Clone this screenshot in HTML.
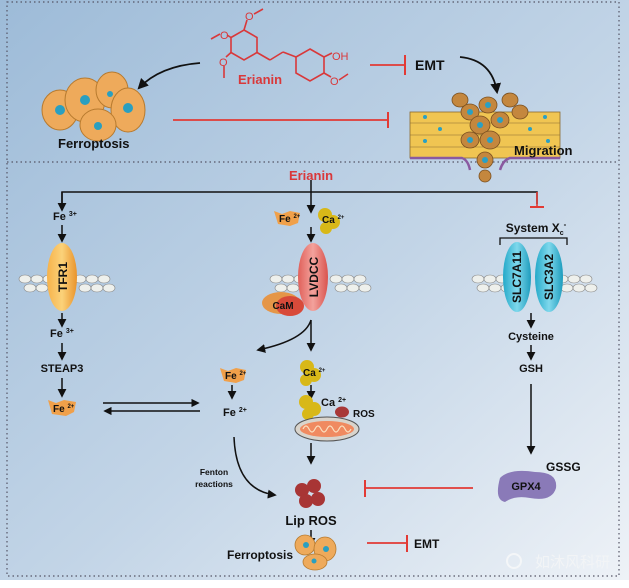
<!DOCTYPE html>
<html><head><meta charset="utf-8"><style>
html,body{margin:0;padding:0;background:#fff}
svg{display:block;font-family:"Liberation Sans",Arial,sans-serif;font-weight:bold}
</style></head><body>
<svg width="629" height="588" viewBox="0 0 629 588" xmlns="http://www.w3.org/2000/svg">
<defs>
<linearGradient id="bg" x1="0" y1="0" x2="1" y2="1">
<stop offset="0" stop-color="#9dbbd8"/><stop offset="0.55" stop-color="#c3d5e7"/><stop offset="1" stop-color="#eef2f7"/>
</linearGradient>
<linearGradient id="og" x1="0" x2="1"><stop offset="0" stop-color="#f7b24a"/><stop offset="0.5" stop-color="#fbd27a"/><stop offset="1" stop-color="#e9932b"/></linearGradient>
<linearGradient id="pg" x1="0" x2="1"><stop offset="0" stop-color="#e0605a"/><stop offset="0.5" stop-color="#f3a29c"/><stop offset="1" stop-color="#d9534d"/></linearGradient>
<linearGradient id="cg" x1="0" x2="1"><stop offset="0" stop-color="#24a9c9"/><stop offset="0.5" stop-color="#7fd8ec"/><stop offset="1" stop-color="#1d9cbd"/></linearGradient>
<marker id="ah" viewBox="0 0 10 10" refX="8" refY="5" markerWidth="6" markerHeight="6" orient="auto"><path d="M0,0 L10,5 L0,10 z" fill="#111"/></marker>
<g id="mem"><ellipse cx="0" cy="0" rx="6" ry="4"/><ellipse cx="12" cy="0" rx="6" ry="4"/><ellipse cx="24" cy="0" rx="6" ry="4"/><ellipse cx="5" cy="9" rx="6" ry="4"/><ellipse cx="17" cy="9" rx="6" ry="4"/><ellipse cx="29" cy="9" rx="6" ry="4"/></g>
</defs>
<rect width="629" height="588" fill="#fff"/>
<rect x="0" y="0" width="629" height="580" fill="url(#bg)"/>
<rect x="7" y="2" width="612" height="574" fill="none" stroke="#556" stroke-width="1.2" stroke-dasharray="1.5,3"/>
<line x1="7" y1="162" x2="619" y2="162" stroke="#556" stroke-width="1.2" stroke-dasharray="1.5,3"/>

<!-- Erianin structure -->
<g stroke="#d9383a" stroke-width="1.6" fill="none">
<polygon points="244,30 257,37.5 257,52.5 244,60 231,52.5 231,37.5"/>
<line x1="244" y1="30" x2="247" y2="20"/><line x1="254" y1="14" x2="263" y2="9"/>
<line x1="231" y1="37.5" x2="227" y2="35"/><line x1="220" y1="34" x2="211" y2="39"/>
<line x1="231" y1="52.5" x2="226" y2="57"/><line x1="224" y1="66" x2="224" y2="78"/>
<line x1="257" y1="52.5" x2="270" y2="60"/><line x1="270" y1="60" x2="283" y2="52"/><line x1="283" y1="52" x2="296" y2="57"/>
<polygon points="310,49 324,57 324,73 310,81 296,73 296,57"/>
<line x1="324" y1="57" x2="332" y2="53"/><line x1="324" y1="73" x2="331" y2="77"/><line x1="339" y1="80" x2="348" y2="74"/>
</g>
<g fill="#d9383a" font-size="11" font-weight="normal"><text x="220" y="39">O</text><text x="219" y="66">O</text><text x="245" y="20">O</text><text x="332" y="60">OH</text><text x="330" y="85">O</text></g>
<text x="238" y="84" fill="#d9383a" font-size="13">Erianin</text>

<path d="M200,63 Q160,66 139,88" stroke="#111" stroke-width="1.8" fill="none" marker-end="url(#ah)"/>
<line x1="370" y1="65" x2="405" y2="65" stroke="#e23a35" stroke-width="1.8"/><line x1="405" y1="55" x2="405" y2="75" stroke="#e23a35" stroke-width="2"/>
<text x="415" y="70" font-size="14" fill="#111">EMT</text>
<path d="M460,57 Q492,60 497,92" stroke="#111" stroke-width="1.8" fill="none" marker-end="url(#ah)"/>
<line x1="173" y1="120" x2="388" y2="120" stroke="#e23a35" stroke-width="1.8"/><line x1="388" y1="112" x2="388" y2="128" stroke="#e23a35" stroke-width="2"/>

<!-- ferroptosis cluster top -->
<g stroke="#b77a2e" stroke-width="1" fill="#eeaa5b">
<ellipse cx="60" cy="110" rx="18" ry="20"/><ellipse cx="85" cy="100" rx="20" ry="22"/><ellipse cx="112" cy="90" rx="16" ry="18"/><ellipse cx="128" cy="110" rx="17" ry="22"/><ellipse cx="98" cy="125" rx="18" ry="16"/>
</g>
<g fill="#2a9fc0"><circle cx="60" cy="110" r="5"/><circle cx="85" cy="100" r="5"/><circle cx="128" cy="108" r="5"/><circle cx="98" cy="126" r="4"/><circle cx="110" cy="94" r="3"/></g>
<text x="58" y="148" font-size="13" fill="#111">Ferroptosis</text>

<!-- migration tissue -->
<rect x="410" y="112" width="150" height="46" fill="#f0c552" stroke="#8a6a30" stroke-width="0.8"/>
<g stroke="#8a6a30" stroke-width="0.6">
<line x1="410" y1="123" x2="560" y2="123"/><line x1="410" y1="135" x2="560" y2="135"/><line x1="410" y1="147" x2="560" y2="147"/>
</g>
<g fill="#c4873e" stroke="#7a5020" stroke-width="0.8">
<ellipse cx="460" cy="100" rx="8" ry="7"/><ellipse cx="470" cy="112" rx="9" ry="8"/><ellipse cx="488" cy="105" rx="9" ry="8"/><ellipse cx="480" cy="125" rx="10" ry="9"/><ellipse cx="500" cy="120" rx="9" ry="8"/><ellipse cx="490" cy="140" rx="10" ry="9"/><ellipse cx="470" cy="140" rx="9" ry="8"/><ellipse cx="485" cy="160" rx="8" ry="8"/><ellipse cx="485" cy="176" rx="6" ry="6"/><ellipse cx="510" cy="100" rx="8" ry="7"/><ellipse cx="520" cy="112" rx="8" ry="7"/>
</g>
<g fill="#2aa0c4"><circle cx="470" cy="112" r="3"/><circle cx="488" cy="105" r="3"/><circle cx="480" cy="125" r="3"/><circle cx="500" cy="120" r="3"/><circle cx="490" cy="140" r="3"/><circle cx="470" cy="140" r="3"/><circle cx="485" cy="160" r="3"/><circle cx="425" cy="117" r="2"/><circle cx="440" cy="129" r="2"/><circle cx="530" cy="129" r="2"/><circle cx="545" cy="117" r="2"/><circle cx="548" cy="141" r="2"/><circle cx="425" cy="141" r="2"/></g>
<path d="M410,158 L462,158 Q468,160 470,170 M500,170 Q503,160 510,158 L560,158" stroke="#8a5aa0" stroke-width="2.5" fill="none"/>
<text x="514" y="155" font-size="13" fill="#111">Migration</text>

<!-- bottom -->
<text x="311" y="180" text-anchor="middle" fill="#d9383a" font-size="13">Erianin</text>
<g stroke="#111" stroke-width="1.5" fill="none">
<polyline points="62,210 62,192 537,192 537,204"/>
<line x1="311" y1="180" x2="311" y2="212" marker-end="url(#ah)"/>
<line x1="62" y1="192" x2="62" y2="210" marker-end="url(#ah)"/>
</g>
<line x1="537" y1="192" x2="537" y2="207" stroke="#e23a35" stroke-width="1.6"/><line x1="530" y1="207" x2="544" y2="207" stroke="#e23a35" stroke-width="2"/>

<text x="53" y="220" font-size="11" fill="#111">Fe <tspan font-size="7" dy="-4">3+</tspan></text>
<line x1="62" y1="225" x2="62" y2="241" stroke="#111" stroke-width="1.5" marker-end="url(#ah)"/>

<!-- membranes -->
<g fill="#eef0ec" stroke="#888" stroke-width="0.6">
<use href="#mem" x="25" y="279"/><use href="#mem" x="80" y="279"/>
<use href="#mem" x="276" y="279"/><use href="#mem" x="336" y="279"/>
<use href="#mem" x="478" y="279"/><use href="#mem" x="562" y="279"/>
</g>

<ellipse cx="62" cy="277" rx="15" ry="34" fill="url(#og)"/>
<text transform="translate(67,277) rotate(-90)" text-anchor="middle" font-size="12" fill="#111">TFR1</text>
<line x1="62" y1="313" x2="62" y2="326" stroke="#111" stroke-width="1.5" marker-end="url(#ah)"/>
<text x="50" y="337" font-size="11" fill="#111">Fe <tspan font-size="7" dy="-4">3+</tspan></text>
<line x1="62" y1="343" x2="62" y2="359" stroke="#111" stroke-width="1.5" marker-end="url(#ah)"/>
<text x="62" y="372" text-anchor="middle" font-size="11" fill="#111">STEAP3</text>
<line x1="62" y1="378" x2="62" y2="396" stroke="#111" stroke-width="1.5" marker-end="url(#ah)"/>
<path d="M48,400 L56,403 L64,400 L76,402 L74,412 L66,416 L52,414 Z" fill="#f0a04a"/>
<text x="53" y="412" font-size="10" fill="#111">Fe <tspan font-size="6" dy="-4">2+</tspan></text>
<line x1="103" y1="403" x2="198" y2="403" stroke="#111" stroke-width="1.4" marker-end="url(#ah)"/>
<line x1="200" y1="411" x2="105" y2="411" stroke="#111" stroke-width="1.4" marker-end="url(#ah)"/>

<!-- middle -->
<path d="M274,211 L282,214 L290,211 L300,213 L298,223 L290,226 L278,224 Z" fill="#f0a04a"/>
<text x="279" y="222" font-size="10" fill="#111">Fe <tspan font-size="6" dy="-4">2+</tspan></text>
<g fill="#d8b818"><circle cx="325" cy="215" r="7"/><circle cx="333" cy="222" r="7"/><circle cx="326" cy="228" r="6"/></g>
<text x="322" y="223" font-size="10" fill="#111">Ca <tspan font-size="6" dy="-4">2+</tspan></text>
<line x1="311" y1="227" x2="311" y2="241" stroke="#111" stroke-width="1.5" marker-end="url(#ah)"/>
<ellipse cx="281" cy="303" rx="19" ry="11" fill="#e59648"/><ellipse cx="290" cy="306" rx="14" ry="10" fill="#d84a3a"/>
<text x="283" y="309" text-anchor="middle" font-size="10" fill="#111">CaM</text>
<ellipse cx="313" cy="277" rx="15" ry="34" fill="url(#pg)"/>
<text transform="translate(318,277) rotate(-90)" text-anchor="middle" font-size="12" fill="#111">LVDCC</text>
<path d="M311,320 Q305,340 258,350" stroke="#111" stroke-width="1.5" fill="none" marker-end="url(#ah)"/>
<line x1="311" y1="320" x2="311" y2="350" stroke="#111" stroke-width="1.5" marker-end="url(#ah)"/>
<path d="M220,368 L228,371 L236,368 L246,370 L244,380 L236,383 L224,381 Z" fill="#f0a04a"/>
<text x="225" y="379" font-size="10" fill="#111">Fe <tspan font-size="6" dy="-4">2+</tspan></text>
<g fill="#d8b818"><circle cx="307" cy="367" r="7"/><circle cx="314" cy="375" r="7"/><circle cx="306" cy="380" r="6"/></g>
<text x="303" y="376" font-size="10" fill="#111">Ca <tspan font-size="6" dy="-4">2+</tspan></text>
<line x1="232" y1="385" x2="232" y2="398" stroke="#111" stroke-width="1.5" marker-end="url(#ah)"/>
<line x1="311" y1="385" x2="311" y2="398" stroke="#111" stroke-width="1.5" marker-end="url(#ah)"/>
<text x="223" y="416" font-size="11" fill="#111">Fe <tspan font-size="7" dy="-4">2+</tspan></text>
<g fill="#d8b818"><circle cx="306" cy="402" r="7"/><circle cx="314" cy="409" r="7"/><circle cx="308" cy="414" r="6"/></g>
<text x="321" y="406" font-size="11" fill="#111">Ca <tspan font-size="7" dy="-4">2+</tspan></text>
<ellipse cx="342" cy="412" rx="7" ry="5.5" fill="#a83838"/>
<text x="353" y="417" font-size="10" fill="#111">ROS</text>
<ellipse cx="327" cy="429" rx="32" ry="12" fill="#d9d4cc" stroke="#555" stroke-width="1"/>
<ellipse cx="327" cy="429" rx="27" ry="8" fill="#f08a60"/>
<path d="M303,429 q3,-6 6,0 q3,6 6,0 q3,-6 6,0 q3,6 6,0 q3,-6 6,0 q3,6 6,0 q3,-6 6,0 q3,6 6,0" stroke="#fbe0c0" stroke-width="1.2" fill="none"/>
<line x1="311" y1="443" x2="311" y2="463" stroke="#111" stroke-width="1.5" marker-end="url(#ah)"/>
<path d="M234,437 Q236,490 275,495" stroke="#111" stroke-width="1.5" fill="none" marker-end="url(#ah)"/>
<text x="214" y="475" text-anchor="middle" font-size="8.5" fill="#111">Fenton</text>
<text x="214" y="487" text-anchor="middle" font-size="8.5" fill="#111">reactions</text>
<g fill="#a83535"><circle cx="314" cy="486" r="7"/><circle cx="302" cy="490" r="7"/><circle cx="306" cy="501" r="7"/><circle cx="318" cy="499" r="7"/></g>
<text x="311" y="525" text-anchor="middle" font-size="13" fill="#111">Lip ROS</text>
<line x1="311" y1="530" x2="311" y2="545" stroke="#111" stroke-width="1.5" marker-end="url(#ah)"/>
<g fill="#eeaa5b" stroke="#b77a2e" stroke-width="0.8"><ellipse cx="305" cy="545" rx="10" ry="10"/><ellipse cx="325" cy="549" rx="11" ry="12"/><ellipse cx="315" cy="562" rx="12" ry="8"/></g>
<g fill="#2a9fc0"><circle cx="306" cy="545" r="3"/><circle cx="326" cy="549" r="3"/><circle cx="314" cy="561" r="2.5"/></g>
<text x="227" y="559" font-size="12" fill="#111">Ferroptosis</text>
<line x1="367" y1="543" x2="407" y2="543" stroke="#e23a35" stroke-width="1.8"/><line x1="407" y1="535" x2="407" y2="552" stroke="#e23a35" stroke-width="2"/>
<text x="414" y="548" font-size="12" fill="#111">EMT</text>

<!-- right -->
<text x="536" y="232" text-anchor="middle" font-size="12" fill="#111">System X<tspan font-size="7" dy="3">c</tspan><tspan font-size="8" dy="-8">-</tspan></text>
<polyline points="500,245 500,238 567,238 567,245" fill="none" stroke="#111" stroke-width="1.3"/>
<ellipse cx="517" cy="277" rx="14" ry="35" fill="url(#cg)"/>
<ellipse cx="549" cy="277" rx="14" ry="35" fill="url(#cg)"/>
<text transform="translate(521,277) rotate(-90)" text-anchor="middle" font-size="12" fill="#111">SLC7A11</text>
<text transform="translate(553,277) rotate(-90)" text-anchor="middle" font-size="12" fill="#111">SLC3A2</text>
<line x1="531" y1="313" x2="531" y2="327" stroke="#111" stroke-width="1.5" marker-end="url(#ah)"/>
<text x="531" y="340" text-anchor="middle" font-size="11" fill="#111">Cysteine</text>
<line x1="531" y1="345" x2="531" y2="359" stroke="#111" stroke-width="1.5" marker-end="url(#ah)"/>
<text x="531" y="372" text-anchor="middle" font-size="11" fill="#111">GSH</text>
<line x1="531" y1="384" x2="531" y2="453" stroke="#111" stroke-width="1.5" marker-end="url(#ah)"/>
<text x="546" y="471" font-size="12" fill="#111">GSSG</text>
<path d="M500,478 Q510,468 535,472 Q558,472 556,488 Q552,502 530,498 Q515,495 505,502 Q494,500 500,478 Z" fill="#8a7ab8"/>
<text x="526" y="490" text-anchor="middle" font-size="11" fill="#111">GPX4</text>
<line x1="365" y1="488" x2="473" y2="488" stroke="#e23a35" stroke-width="1.8"/><line x1="365" y1="480" x2="365" y2="497" stroke="#e23a35" stroke-width="2"/>

<!-- watermark -->
<circle cx="514" cy="561" r="7" fill="none" stroke="#f4f6f8" stroke-width="2"/>
<text x="535" y="567" font-family="'Noto Sans CJK SC',sans-serif" font-weight="normal" font-size="15" fill="#f2f4f6">如沐风科研</text>
</svg>
</body></html>
